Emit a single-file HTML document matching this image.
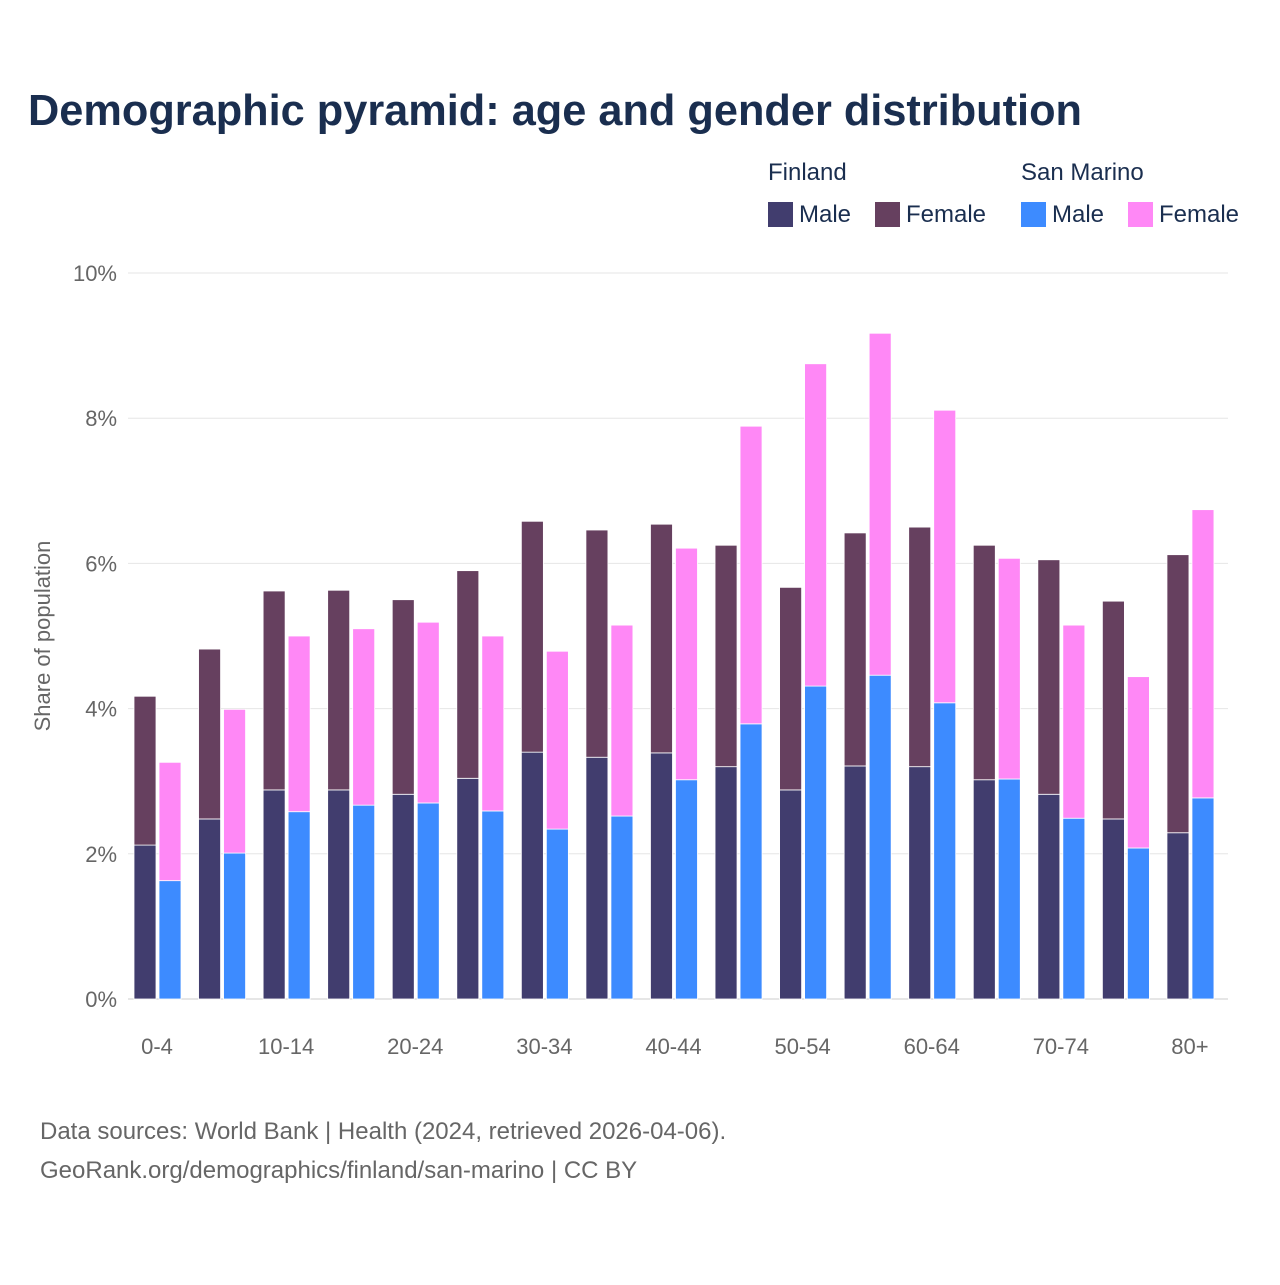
<!DOCTYPE html>
<html><head><meta charset="utf-8">
<style>
body{margin:0;background:#fff;font-family:"Liberation Sans",sans-serif;}
svg text{font-family:"Liberation Sans",sans-serif;}
</style></head>
<body>
<svg id="chart" width="1280" height="1280" viewBox="0 0 1280 1280" xmlns="http://www.w3.org/2000/svg">
<rect width="1280" height="1280" fill="#fff"/>
<text x="28" y="125" font-size="44" font-weight="bold" fill="#1a2e4f" textLength="1054" lengthAdjust="spacingAndGlyphs">Demographic pyramid: age and gender distribution</text>
<g font-size="24" fill="#1a2e4f">
<text x="768" y="180">Finland</text>
<text x="1021" y="180">San Marino</text>
<g><rect x="768" y="202" width="25" height="25" fill="#413d6e"/><text x="799" y="222">Male</text></g>
<g><rect x="875" y="202" width="25" height="25" fill="#66405f"/><text x="906" y="222">Female</text></g>
<g><rect x="1021" y="202" width="25" height="25" fill="#3d8bff"/><text x="1052" y="222">Male</text></g>
<g><rect x="1128" y="202" width="25" height="25" fill="#ff88f6"/><text x="1159" y="222">Female</text></g>
</g>
<g id="grid"></g>
<g id="bars"></g>
<g id="xaxis"></g>
<text transform="translate(50,636) rotate(-90)" text-anchor="middle" font-size="22" fill="#666">Share of population</text>
<text x="40" y="1139" font-size="24" fill="#666">Data sources: World Bank | Health (2024, retrieved 2026-04-06).</text>
<text x="40" y="1178" font-size="24" fill="#666">GeoRank.org/demographics/finland/san-marino | CC BY</text>
</svg>
<script>
const categories=["0-4","5-9","10-14","15-19","20-24","25-29","30-34","35-39","40-44","45-49","50-54","55-59","60-64","65-69","70-74","75-79","80+"];
const finMale=[2.12,2.48,2.88,2.88,2.82,3.04,3.40,3.33,3.39,3.20,2.88,3.21,3.20,3.02,2.82,2.48,2.29];
const finFemale=[2.05,2.34,2.74,2.75,2.68,2.86,3.18,3.13,3.15,3.05,2.79,3.21,3.30,3.23,3.23,3.00,3.83];
const smMale=[1.63,2.01,2.58,2.67,2.70,2.59,2.34,2.52,3.02,3.79,4.31,4.46,4.08,3.03,2.49,2.08,2.77];
const smFemale=[1.63,1.98,2.42,2.43,2.49,2.41,2.45,2.63,3.19,4.10,4.44,4.71,4.03,3.04,2.66,2.36,3.97];
const yTicks=[0,2,4,6,8,10];
const NS="http://www.w3.org/2000/svg";
const y=v=>999-v*72.6;
const xc=i=>157+i*64.56;
function mk(tag,attrs,parent){const e=document.createElementNS(NS,tag);for(const k in attrs)e.setAttribute(k,attrs[k]);parent.appendChild(e);return e;}
const grid=document.getElementById('grid'),bars=document.getElementById('bars'),xa=document.getElementById('xaxis');
yTicks.forEach(t=>{
 const l=mk('line',{x1:128,x2:1228,y1:y(t),y2:y(t),stroke:t===0?'#ccc':'#e6e6e6','stroke-width':1},grid);
 
 
 const tx=mk('text',{x:117,y:y(t)+8,'text-anchor':'end','font-size':22,fill:'#666'},grid);
 tx.textContent=t+'%';
 
 
});
categories.forEach((c,i)=>{
 const cx=xc(i);
 const parts=[[cx-23,0,finMale[i],'#413d6e','fin-male'],[cx-23,finMale[i],finMale[i]+finFemale[i],'#66405f','fin-female'],
  [cx+2,0,smMale[i],'#3d8bff','sm-male'],[cx+2,smMale[i],smMale[i]+smFemale[i],'#ff88f6','sm-female']];
 parts.forEach(p=>{
  const r=mk('rect',{x:p[0],y:y(p[2]),width:22,height:y(p[1])-y(p[2]),fill:p[3],stroke:'#fff','stroke-width':0.8},bars);
  
  
 });
 if(i%2===0){
  const tx=mk('text',{x:cx,y:1054,'text-anchor':'middle','font-size':22,fill:'#666'},xa);
  tx.textContent=c;
  
  
 }
});
</script>
</body></html>
